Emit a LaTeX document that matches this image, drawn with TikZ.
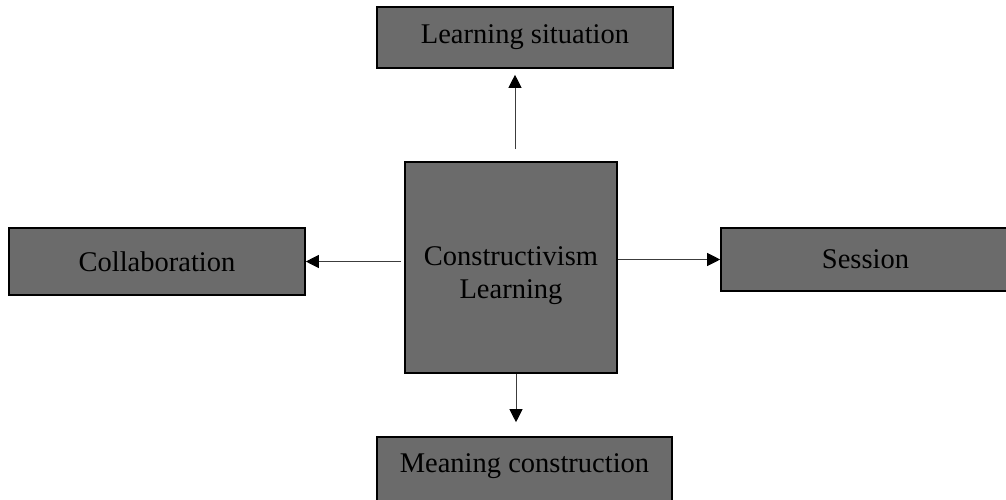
\documentclass[tikz,border=0pt]{standalone}
\usepackage{fontspec}
\setmainfont{Liberation Serif}
\usetikzlibrary{arrows.meta}
\definecolor{boxgray}{RGB}{107,107,107}
\definecolor{linegray}{RGB}{60,60,60}
\tikzset{
  box/.style={draw=black, line width=1.6pt, fill=boxgray, inner sep=0pt,
    font=\fontsize{28.5}{33}\selectfont, align=center},
  arr/.style={draw=linegray, line width=1pt,
    -{Triangle[length=13pt,width=13pt,color=black]}}
}
\begin{document}
\begin{tikzpicture}[x=1pt,y=-1pt]
      \useasboundingbox (0,0) rectangle (1006,499);
      \node[box, minimum width=296pt, minimum height=61pt] (situation) at (525,37.5) {Learning situation};
      \node[box, minimum width=212pt, minimum height=211pt] (core) at (511,267.5) {\rule{0pt}{36pt}Constructivism\\Learning};
      \node[box, minimum width=296pt, minimum height=67pt] (collab) at (157,261.5) {Collaboration};
      \node[box, minimum width=309pt, minimum height=63pt] (session) at (875.5,259.5) {\hspace*{-20pt}Session};
      \node[box, minimum width=295pt, minimum height=68pt, text height=19pt, text depth=17pt] (meaning) at (524.5,471) {Meaning construction};
      \begin{scope}[arr]
        \draw[shorten <=12pt, shorten >=6pt] ([xshift=4pt]core.north) -- ([xshift=4pt]core.north |- situation.south);
        \draw[shorten >=14pt] ([xshift=5pt]core.south) -- ([xshift=5pt]core.south |- meaning.north);
        \draw[shorten <=3pt] (collab.east -| core.west) -- (collab.east);
        \draw (session.west -| core.east) -- (session.west);
      \end{scope}
    \end{tikzpicture}
\end{document}
